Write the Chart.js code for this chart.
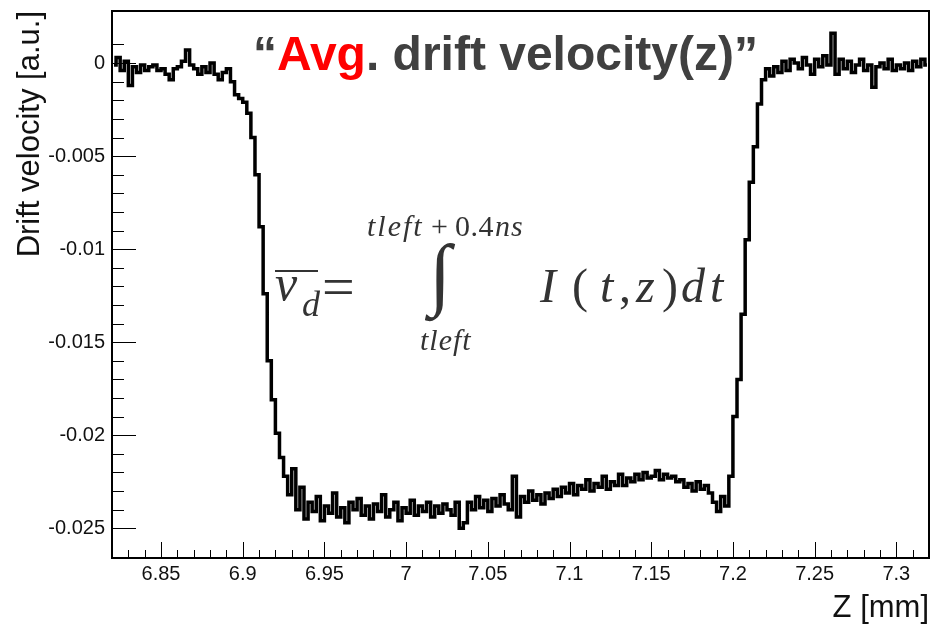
<!DOCTYPE html>
<html>
<head>
<meta charset="utf-8">
<script src="https://cdn.jsdelivr.net/npm/chart.js@4"></script>
<style>
  html, body { margin: 0; padding: 0; background: #fff; }
  #wrap { width: 934px; height: 627px; }
</style>
</head>
<body>
<div id="wrap"><canvas id="driftChart" width="934" height="627"></canvas></div>
<script>
// histogram binning along Z [mm]
const zStart = 6.82;
const zBinWidth = 0.0025;

// drift velocity per bin [a.u.]
const driftVel = [
  -0.0001, 0.0003, -0.0004, 0.0001, -0.0012, -0.0002, -0.0005, -0.0001, -0.0004, -0.0002,
  -0.0001, -0.0004, -0.0003, -0.0006, -0.0009, -0.0003, -0.0002, 0.0001, 0.0007, -0.0001,
  -0.0003, -0.0006, -0.0002, -0.0005, 0.0000, -0.0006, -0.0009, -0.0005, -0.0003, -0.0010,
  -0.0017, -0.0019, -0.0021, -0.0027, -0.0040, -0.0060, -0.0088, -0.0124, -0.0160, -0.0181,
  -0.0199, -0.0212, -0.0222, -0.0232, -0.0218, -0.0240, -0.0228, -0.0245, -0.0236, -0.0241,
  -0.0233, -0.0246, -0.0238, -0.0242, -0.0231, -0.0244, -0.0239, -0.0247, -0.0236, -0.0240,
  -0.0234, -0.0243, -0.0238, -0.0245, -0.0237, -0.0241, -0.0232, -0.0244, -0.0240, -0.0236,
  -0.0246, -0.0239, -0.0242, -0.0235, -0.0243, -0.0238, -0.0241, -0.0236, -0.0244, -0.0238,
  -0.0242, -0.0237, -0.0240, -0.0243, -0.0236, -0.0250, -0.0247, -0.0236, -0.0240, -0.0233,
  -0.0239, -0.0235, -0.0241, -0.0234, -0.0238, -0.0232, -0.0237, -0.0240, -0.0222, -0.0244,
  -0.0233, -0.0236, -0.0230, -0.0235, -0.0232, -0.0237, -0.0231, -0.0234, -0.0229, -0.0233,
  -0.0228, -0.0231, -0.0226, -0.0232, -0.0227, -0.0229, -0.0224, -0.0230, -0.0226, -0.0228,
  -0.0222, -0.0229, -0.0225, -0.0227, -0.0221, -0.0227, -0.0223, -0.0225, -0.0221, -0.0224,
  -0.0220, -0.0223, -0.0222, -0.0219, -0.0224, -0.0221, -0.0223, -0.0222, -0.0225, -0.0224,
  -0.0228, -0.0226, -0.0230, -0.0225, -0.0229, -0.0227, -0.0231, -0.0236, -0.0241, -0.0233,
  -0.0238, -0.0222, -0.0190, -0.0170, -0.0135, -0.0095, -0.0064, -0.0045, -0.0022, -0.0009,
  -0.0003, -0.0007, -0.0002, -0.0005, 0.0001, -0.0004, 0.0002, 0.0000, -0.0003, 0.0003,
  -0.0001, -0.0006, 0.0002, -0.0002, 0.0004, -0.0001, 0.0016, -0.0006, 0.0002, -0.0003,
  0.0001, -0.0005, -0.0001, 0.0002, -0.0004, -0.0001, -0.0013, -0.0002, 0.0000, -0.0003,
  0.0002, -0.0004, -0.0001, -0.0003, 0.0000, -0.0004, 0.0001, -0.0002, 0.0002, -0.0001
];

// axes
const xRange = [6.82, 7.32];
const yRange = [-0.0266, 0.0028];
const xTickStep = 0.01, xLabelStep = 0.05;
const yTickStep = 0.001, yLabelStep = 0.005;

const titleParts = [['\u201C', '#404040'], ['Avg', '#ff0000'], ['. drift velocity(z)\u201D', '#404040']];

const sans = '"Liberation Sans", Arial, sans-serif';
const serif = '"Liberation Serif", "Times New Roman", serif';

const points = driftVel.map((v, i) => ({ x: zStart + (i + 0.5) * zBinWidth, y: v }));

const isMult = (v, step) => Math.abs(v / step - Math.round(v / step)) < 1e-6;

// ROOT-like frame: ticks inside the box, title and formula drawn on top
const rootFrame = {
  id: 'rootFrame',
  afterDatasetsDraw(chart) {
    const { ctx, chartArea: a, scales: { x, y } } = chart;
    ctx.save();
    ctx.strokeStyle = '#000';
    ctx.lineWidth = 1;
    x.ticks.forEach(t => {
      if (!isMult(t.value, xTickStep)) return;
      const px = Math.round(x.getPixelForValue(t.value)) + 0.5;
      const len = isMult(t.value, xLabelStep) ? 16 : 8;
      ctx.beginPath(); ctx.moveTo(px, a.bottom); ctx.lineTo(px, a.bottom - len); ctx.stroke();
    });
    y.ticks.forEach(t => {
      if (!isMult(t.value, yTickStep)) return;
      const py = Math.round(y.getPixelForValue(t.value)) + 0.5;
      const len = isMult(t.value, yLabelStep) ? 24 : 12;
      ctx.beginPath(); ctx.moveTo(a.left, py); ctx.lineTo(a.left + len, py); ctx.stroke();
    });
    ctx.lineWidth = 2;
    ctx.strokeRect(a.left, a.top, a.right - a.left, a.bottom - a.top);
    ctx.restore();
  },
  afterDraw(chart) {
    const ctx = chart.ctx;
    ctx.save();
    ctx.textBaseline = 'alphabetic';

    // title
    ctx.font = 'bold 48px ' + sans;
    let tx = 253;
    titleParts.forEach(([s, c]) => {
      ctx.fillStyle = c;
      ctx.fillText(s, tx, 70);
      tx += ctx.measureText(s).width;
    });

    // formula
    ctx.fillStyle = '#333';
    ctx.font = 'italic 50px ' + serif;
    ctx.fillText('v', 275, 300);
    ctx.fillRect(275, 270, 43, 2);
    ctx.font = 'italic 36px ' + serif;
    ctx.fillText('d', 302, 316);
    ctx.font = '58px ' + serif;
    ctx.fillText('=', 322, 306);

    const upper = [['tleft', 367, true, '2px'], ['+', 431, false, '0px'], ['0.4', 455, false, '0.5px'], ['ns', 495, true, '1px']];
    upper.forEach(([s, px, it, ls]) => {
      ctx.letterSpacing = ls;
      ctx.font = (it ? 'italic ' : '') + '30px ' + serif;
      ctx.fillText(s, px, 236);
    });
    ctx.letterSpacing = '1px';
    ctx.font = 'italic 30px ' + serif;
    ctx.fillText('tleft', 420, 350);
    ctx.letterSpacing = '0px';
    ctx.font = '80px ' + serif;
    ctx.fillText('\u222B', 429, 300);

    const body = [['I', 540, true], ['(', 572, false], ['t', 600, true], [',', 619, false],
                  ['z', 636, true], [')', 662, false], ['d', 681, true], ['t', 710, true]];
    body.forEach(([s, px, it]) => {
      ctx.font = (it ? 'italic ' : '') + '48px ' + serif;
      ctx.fillText(s, px, 302);
    });
    ctx.restore();
  }
};

new Chart(document.getElementById('driftChart'), {
  type: 'line',
  data: {
    datasets: [{
      data: points,
      borderColor: '#000',
      borderWidth: 3.5,
      stepped: 'middle',
      pointRadius: 0,
      fill: false
    }]
  },
  options: {
    responsive: false,
    animation: false,
    layout: { padding: { top: 11, right: 5, left: 0, bottom: 0 } },
    plugins: { legend: { display: false }, tooltip: { enabled: false } },
    scales: {
      x: {
        type: 'linear',
        min: xRange[0],
        max: xRange[1],
        afterFit: s => { s.height = 69; s.paddingLeft = 0; s.paddingRight = 0; },
        grid: { display: false, drawTicks: false },
        border: { display: false },
        ticks: {
          stepSize: xTickStep,
          autoSkip: false,
          maxRotation: 0,
          padding: 4,
          color: '#111',
          font: { family: sans, size: 20 },
          callback: v => isMult(v, xLabelStep) ? String(+v.toFixed(2)) : ''
        },
        title: {
          display: true, text: 'Z [mm]', align: 'end', color: '#111',
          font: { family: sans, size: 31 }, padding: { top: 0, bottom: 0 }
        }
      },
      y: {
        min: yRange[0],
        max: yRange[1],
        afterFit: s => { s.width = 112; s.paddingTop = 0; s.paddingBottom = 0; },
        grid: { display: false, drawTicks: false },
        border: { display: false },
        ticks: {
          stepSize: yTickStep,
          autoSkip: false,
          padding: 7,
          color: '#111',
          font: { family: sans, size: 20 },
          callback: v => isMult(v, yLabelStep) ? String(+v.toFixed(3)) : ''
        },
        title: {
          display: true, text: 'Drift velocity [a.u.]', align: 'end', color: '#111',
          font: { family: sans, size: 31 }, padding: { top: 12, bottom: 0 }
        }
      }
    }
  },
  plugins: [rootFrame]
});
</script>
</body>
</html>
